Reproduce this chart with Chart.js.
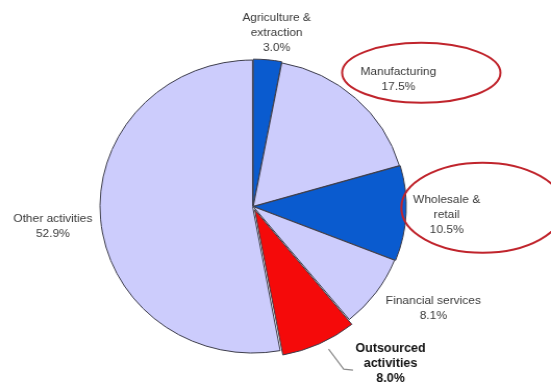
<!DOCTYPE html>
<html>
<head>
<meta charset="utf-8">
<script src="https://cdn.jsdelivr.net/npm/chart.js@4/dist/chart.umd.min.js"></script>
<style>
  html, body { margin: 0; padding: 0; background: #fff; overflow: hidden; }
  #wrap { width: 529px; height: 383px; transform: scaleX(1.0416); transform-origin: 0 0; }
  #c { display: block; }
</style>
</head>
<body>
<div id="wrap"><canvas id="c" width="529" height="383" style="width:529px;height:383px"></canvas></div>
<script>
// Employment by sector
const categories = ['Agriculture & extraction', 'Manufacturing', 'Wholesale & retail', 'Financial services', 'Outsourced activities', 'Other activities'];
const labelLines = [
  ['Agriculture &', 'extraction'],
  ['Manufacturing'],
  ['Wholesale &', 'retail'],
  ['Financial services'],
  ['Outsourced', 'activities'],
  ['Other activities']
];
const shares = [3.0, 17.5, 10.5, 8.1, 8.0, 52.9];

const sliceColors = ['#0a5bcf', '#ccccfc', '#0a5bcf', '#ccccfc', '#f50a0a', '#ccccfc'];
const sliceOffsets = [3, 1, 3, 0, 14, 2];

// label placement: pushed out along each slice's bisector, then nudged
const labelGap = 30;
const labelNudge = [[6, 2], [21, 3], [10, 0], [31, -2], [58, -3], [-17, 4]];
const labelBold = [false, false, false, false, true, false];
// red call-out rings around two of the labels (offset from label centre, radii)
const rings = { 1: [22, -6.5, 76, 30], 2: [34.5, -7, 78, 45] };

const sectorLabels = {
  id: 'sectorLabels',
  afterDatasetsDraw(chart) {
    const ctx = chart.ctx;
    const arcs = chart.getDatasetMeta(0).data;
    ctx.save();
    arcs.forEach((arc, i) => {
      const p = arc.getProps(['x', 'y', 'startAngle', 'endAngle', 'outerRadius'], true);
      const mid = (p.startAngle + p.endAngle) / 2;
      const d = p.outerRadius + labelGap;
      const lx = p.x + Math.cos(mid) * d + labelNudge[i][0];
      const ly = p.y + Math.sin(mid) * d + labelNudge[i][1];
      const lines = labelLines[i].concat([shares[i].toFixed(1) + '%']);
      const lh = 15;
      ctx.font = (labelBold[i] ? 'bold 12px' : '11.5px') + ' "Liberation Sans", Arial, sans-serif';
      ctx.fillStyle = labelBold[i] ? '#111' : '#3a3a3a';
      ctx.textAlign = 'center';
      ctx.textBaseline = 'middle';
      const top = ly - (lines.length - 1) * lh / 2;
      lines.forEach((t, k) => ctx.fillText(t, lx, top + k * lh));

      if (rings[i]) {
        const [ox, oy, rx, ry] = rings[i];
        ctx.beginPath();
        ctx.ellipse(lx + ox, ly + oy, rx, ry, 0, 0, Math.PI * 2);
        ctx.strokeStyle = '#c0242c';
        ctx.lineWidth = 2;
        ctx.stroke();
      }

      if (labelBold[i]) {
        // leader from the exploded slice's rim to its label
        const off = sliceOffsets[i];
        const cx = p.x + Math.cos(mid) * off;
        const cy = p.y + Math.sin(mid) * off;
        const a = mid - 0.04;
        const sx = cx + Math.cos(a) * p.outerRadius;
        const sy = cy + Math.sin(a) * p.outerRadius;
        const ex = lx - 36, ey = top + lh + 7;
        ctx.beginPath();
        ctx.moveTo(sx, sy);
        ctx.lineTo(ex - 9, ey - 1);
        ctx.lineTo(ex, ey);
        ctx.strokeStyle = '#8a8a8a';
        ctx.lineWidth = 1.2;
        ctx.stroke();
      }
    });
    ctx.restore();
  }
};

new Chart(document.getElementById('c'), {
  type: 'pie',
  data: {
    labels: categories,
    datasets: [{
      data: shares,
      backgroundColor: sliceColors,
      borderColor: '#3c3c4a',
      borderWidth: 1,
      offset: sliceOffsets,
      radius: 146
    }]
  },
  options: {
    responsive: false,
    animation: false,
    layout: { padding: { left: 0, right: 43, top: 30, bottom: 0 } },
    plugins: { legend: { display: false }, tooltip: { enabled: false } }
  },
  plugins: [sectorLabels]
});
</script>
</body>
</html>
